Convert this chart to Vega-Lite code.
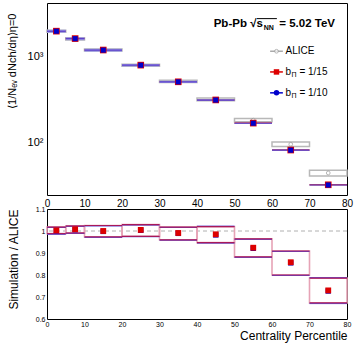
{
  "$schema": "https://vega.github.io/schema/vega-lite/v6.json",
  "padding": {"left": 6, "top": -2, "right": 4, "bottom": 4},
  "spacing": 14,
  "bounds": "flush",
  "datasets": {
    "bins": [
      {"lo": 0, "hi": 5, "c": 2.5, "alice": 1943, "alice_lo": 1889, "alice_hi": 1997, "sim10": 1945, "sim10_lo": 1867, "sim10_hi": 2023, "sim15": 1949, "r10": 1.001, "r15": 1.003, "b10_lo": 0.985, "b10_hi": 1.016, "b15_lo": 0.988, "b15_hi": 1.018},
      {"lo": 5, "hi": 10, "c": 7.5, "alice": 1587, "alice_lo": 1541, "alice_hi": 1633, "sim10": 1596, "sim10_lo": 1532, "sim10_hi": 1660, "sim15": 1600, "r10": 1.006, "r15": 1.008, "b10_lo": 0.989, "b10_hi": 1.021, "b15_lo": 0.991, "b15_hi": 1.023},
      {"lo": 10, "hi": 20, "c": 15, "alice": 1180, "alice_lo": 1149, "alice_hi": 1211, "sim10": 1177, "sim10_lo": 1130, "sim10_hi": 1224, "sim15": 1180, "r10": 0.998, "r15": 1.0, "b10_lo": 0.971, "b10_hi": 1.023, "b15_lo": 0.973, "b15_hi": 1.025},
      {"lo": 20, "hi": 30, "c": 25, "alice": 786, "alice_lo": 766, "alice_hi": 806, "sim10": 788, "sim10_lo": 760, "sim10_hi": 816, "sim15": 790, "r10": 1.003, "r15": 1.005, "b10_lo": 0.974, "b10_hi": 1.027, "b15_lo": 0.976, "b15_hi": 1.029},
      {"lo": 30, "hi": 40, "c": 35, "alice": 512, "alice_lo": 497, "alice_hi": 527, "sim10": 506, "sim10_lo": 491, "sim10_hi": 521, "sim15": 507, "r10": 0.989, "r15": 0.991, "b10_lo": 0.958, "b10_hi": 1.016, "b15_lo": 0.96, "b15_hi": 1.018},
      {"lo": 40, "hi": 50, "c": 45, "alice": 318, "alice_lo": 306, "alice_hi": 330, "sim10": 312, "sim10_lo": 306, "sim10_hi": 318, "sim15": 313, "r10": 0.982, "r15": 0.985, "b10_lo": 0.945, "b10_hi": 1.022, "b15_lo": 0.947, "b15_hi": 1.02},
      {"lo": 50, "hi": 60, "c": 55, "alice": 183, "alice_lo": 175, "alice_hi": 191, "sim10": 168.5, "sim10_lo": 166.5, "sim10_hi": 170.5, "sim15": 169, "r10": 0.921, "r15": 0.924, "b10_lo": 0.88, "b10_hi": 0.962, "b15_lo": 0.882, "b15_hi": 0.964},
      {"lo": 60, "hi": 70, "c": 65, "alice": 96.3, "alice_lo": 90.5, "alice_hi": 102.1, "sim10": 82.3, "sim10_lo": 81.5, "sim10_hi": 83.1, "sim15": 82.6, "r10": 0.855, "r15": 0.858, "b10_lo": 0.798, "b10_hi": 0.907, "b15_lo": 0.8, "b15_hi": 0.909},
      {"lo": 70, "hi": 80, "c": 75, "alice": 44.9, "alice_lo": 41.5, "alice_hi": 48.3, "sim10": 32.6, "sim10_lo": 32.3, "sim10_hi": 32.9, "sim15": 32.8, "r10": 0.727, "r15": 0.73, "b10_lo": 0.67, "b10_hi": 0.788, "b15_lo": 0.673, "b15_hi": 0.786}
    ]
  },
  "vconcat": [
    {
      "width": 300,
      "height": 192,
      "data": {"name": "bins"},
      "resolve": {"axis": {"x": "independent", "y": "independent"}},
      "layer": [
        {
          "mark": {"type": "rect", "fill": "white", "stroke": "#b8b8b8", "strokeWidth": 1.5},
          "encoding": {
            "x": {"field": "lo", "type": "quantitative", "scale": {"domain": [0, 80], "nice": false, "zero": false},
              "axis": {"orient": "bottom", "values": [0,2,4,6,8,10,12,14,16,18,20,22,24,26,28,30,32,34,36,38,40,42,44,46,48,50,52,54,56,58,60,62,64,66,68,70,72,74,76,78,80],
                "labelExpr": "datum.value % 10 == 0 ? '' + datum.value : ''", "labelFontSize": 10, "labelPadding": 3, "title": null,
                "encode": {"ticks": {"update": {"y2": {"signal": "datum.value % 10 == 0 ? -5 : -2.5"}}}}}},
            "x2": {"field": "hi"},
            "y": {"field": "alice_lo", "type": "quantitative", "scale": {"type": "log", "domain": [25, 4120], "nice": false},
              "axis": {"orient": "left", "values": [30,40,50,60,70,80,90,100,200,300,400,500,600,700,800,900,1000,2000,3000,4000],
                "labelExpr": "datum.value == 100 ? '10²' : datum.value == 1000 ? '10³' : ''", "labelFontSize": 11, "labelPadding": 4,
                "title": "⟨1/Nₑᵥ dNch/dη⟩η=0", "titleFontSize": 11, "titleAngle": 270, "titleAlign": "right", "titleY": 10, "titlePadding": 10,
                "encode": {"ticks": {"update": {"x2": {"signal": "(datum.value == 100 || datum.value == 1000) ? 9 : 4.5"}}}}}},
            "y2": {"field": "alice_hi"}
          }
        },
        {
          "mark": {"type": "point", "shape": "circle", "filled": true, "fill": "white", "stroke": "#999999", "strokeWidth": 1, "size": 14},
          "encoding": {
            "x": {"field": "c", "type": "quantitative", "scale": {"domain": [0, 80], "nice": false, "zero": false},
              "axis": {"orient": "top", "values": [0,2,4,6,8,10,12,14,16,18,20,22,24,26,28,30,32,34,36,38,40,42,44,46,48,50,52,54,56,58,60,62,64,66,68,70,72,74,76,78,80],
                "labels": false, "title": null,
                "encode": {"ticks": {"update": {"y2": {"signal": "datum.value % 10 == 0 ? 5 : 2.5"}}}}}},
            "y": {"field": "alice", "type": "quantitative", "scale": {"type": "log", "domain": [25, 4120], "nice": false},
              "axis": {"orient": "right", "values": [30,40,50,60,70,80,90,100,200,300,400,500,600,700,800,900,1000,2000,3000,4000],
                "labels": false, "title": null,
                "encode": {"ticks": {"update": {"x2": {"signal": "(datum.value == 100 || datum.value == 1000) ? -9 : -4.5"}}}}}}
          }
        },
        {
          "mark": {"type": "rule", "color": "#cc2020", "strokeWidth": 1.5},
          "encoding": {
            "x": {"field": "lo", "type": "quantitative", "scale": {"domain": [0, 80], "nice": false, "zero": false}, "axis": null},
            "x2": {"field": "hi"},
            "y": {"field": "sim15", "type": "quantitative", "scale": {"type": "log", "domain": [25, 4120], "nice": false}, "axis": null}
          }
        },
        {
          "mark": {"type": "rect", "fill": "#9d9de3", "stroke": null},
          "encoding": {
            "x": {"field": "lo", "type": "quantitative", "scale": {"domain": [0, 80], "nice": false, "zero": false}, "axis": null},
            "x2": {"field": "hi"},
            "y": {"field": "sim10_lo", "type": "quantitative", "scale": {"type": "log", "domain": [25, 4120], "nice": false}, "axis": null},
            "y2": {"field": "sim10_hi"}
          }
        },
        {
          "mark": {"type": "rule", "color": "#5a3cc8", "strokeWidth": 1.2},
          "encoding": {
            "x": {"field": "lo", "type": "quantitative", "scale": {"domain": [0, 80], "nice": false, "zero": false}, "axis": null},
            "x2": {"field": "hi"},
            "y": {"field": "sim10", "type": "quantitative", "scale": {"type": "log", "domain": [25, 4120], "nice": false}, "axis": null}
          }
        },
        {
          "mark": {"type": "point", "shape": "square", "filled": true, "color": "#dd0000", "opacity": 1, "size": 44},
          "encoding": {
            "x": {"field": "c", "type": "quantitative", "scale": {"domain": [0, 80], "nice": false, "zero": false}, "axis": null},
            "y": {"field": "sim15", "type": "quantitative", "scale": {"type": "log", "domain": [25, 4120], "nice": false}, "axis": null}
          }
        },
        {
          "mark": {"type": "point", "shape": "square", "filled": true, "color": "#0000cc", "opacity": 1, "size": 26},
          "encoding": {
            "x": {"field": "c", "type": "quantitative", "scale": {"domain": [0, 80], "nice": false, "zero": false}, "axis": null},
            "y": {"field": "sim10", "type": "quantitative", "scale": {"type": "log", "domain": [25, 4120], "nice": false}, "axis": null}
          }
        },
        {
          "data": {"values": [{}]},
          "mark": {"type": "rule", "color": "#aaaaaa", "strokeWidth": 1.5},
          "encoding": {
            "x": {"datum": 59.5, "type": "quantitative", "scale": {"domain": [0, 80], "nice": false, "zero": false}, "axis": null},
            "x2": {"datum": 62.9},
            "y": {"datum": 1142, "type": "quantitative", "scale": {"type": "log", "domain": [25, 4120], "nice": false}, "axis": null}
          }
        },
        {
          "data": {"values": [{}]},
          "mark": {"type": "point", "shape": "circle", "filled": true, "fill": "white", "stroke": "#999999", "strokeWidth": 1, "size": 14},
          "encoding": {
            "x": {"datum": 61.2, "type": "quantitative", "scale": {"domain": [0, 80], "nice": false, "zero": false}, "axis": null},
            "y": {"datum": 1142, "type": "quantitative", "scale": {"type": "log", "domain": [25, 4120], "nice": false}, "axis": null}
          }
        },
        {
          "data": {"values": [{}]},
          "mark": {"type": "rule", "color": "#dd0000", "strokeWidth": 1.5},
          "encoding": {
            "x": {"datum": 59.5, "type": "quantitative", "scale": {"domain": [0, 80], "nice": false, "zero": false}, "axis": null},
            "x2": {"datum": 62.9},
            "y": {"datum": 659, "type": "quantitative", "scale": {"type": "log", "domain": [25, 4120], "nice": false}, "axis": null}
          }
        },
        {
          "data": {"values": [{}]},
          "mark": {"type": "point", "shape": "square", "filled": true, "color": "#dd0000", "opacity": 1, "size": 30},
          "encoding": {
            "x": {"datum": 61.2, "type": "quantitative", "scale": {"domain": [0, 80], "nice": false, "zero": false}, "axis": null},
            "y": {"datum": 659, "type": "quantitative", "scale": {"type": "log", "domain": [25, 4120], "nice": false}, "axis": null}
          }
        },
        {
          "data": {"values": [{}]},
          "mark": {"type": "rule", "color": "#0000cc", "strokeWidth": 1.5},
          "encoding": {
            "x": {"datum": 59.5, "type": "quantitative", "scale": {"domain": [0, 80], "nice": false, "zero": false}, "axis": null},
            "x2": {"datum": 62.9},
            "y": {"datum": 378, "type": "quantitative", "scale": {"type": "log", "domain": [25, 4120], "nice": false}, "axis": null}
          }
        },
        {
          "data": {"values": [{}]},
          "mark": {"type": "point", "shape": "circle", "filled": true, "color": "#0000cc", "opacity": 1, "size": 30},
          "encoding": {
            "x": {"datum": 61.2, "type": "quantitative", "scale": {"domain": [0, 80], "nice": false, "zero": false}, "axis": null},
            "y": {"datum": 378, "type": "quantitative", "scale": {"type": "log", "domain": [25, 4120], "nice": false}, "axis": null}
          }
        },
        {
          "data": {"values": [{}]},
          "mark": {"type": "text", "text": "ALICE", "align": "left", "baseline": "middle", "fontSize": 10, "font": "Liberation Sans", "color": "black"},
          "encoding": {
            "x": {"datum": 63.6, "type": "quantitative", "scale": {"domain": [0, 80], "nice": false, "zero": false}, "axis": null},
            "y": {"datum": 1142, "type": "quantitative", "scale": {"type": "log", "domain": [25, 4120], "nice": false}, "axis": null}
          }
        },
        {
          "data": {"values": [{}]},
          "mark": {"type": "text", "text": "b", "align": "left", "baseline": "middle", "fontSize": 10, "font": "Liberation Sans", "color": "black"},
          "encoding": {
            "x": {"datum": 63.6, "type": "quantitative", "scale": {"domain": [0, 80], "nice": false, "zero": false}, "axis": null},
            "y": {"datum": 659, "type": "quantitative", "scale": {"type": "log", "domain": [25, 4120], "nice": false}, "axis": null}
          }
        },
        {
          "data": {"values": [{}]},
          "mark": {"type": "text", "text": "Π", "align": "left", "baseline": "middle", "fontSize": 7, "dy": 3, "font": "Liberation Sans", "color": "black"},
          "encoding": {
            "x": {"datum": 65.2, "type": "quantitative", "scale": {"domain": [0, 80], "nice": false, "zero": false}, "axis": null},
            "y": {"datum": 659, "type": "quantitative", "scale": {"type": "log", "domain": [25, 4120], "nice": false}, "axis": null}
          }
        },
        {
          "data": {"values": [{}]},
          "mark": {"type": "text", "text": "= 1/15", "align": "left", "baseline": "middle", "fontSize": 10, "font": "Liberation Sans", "color": "black"},
          "encoding": {
            "x": {"datum": 67.3, "type": "quantitative", "scale": {"domain": [0, 80], "nice": false, "zero": false}, "axis": null},
            "y": {"datum": 659, "type": "quantitative", "scale": {"type": "log", "domain": [25, 4120], "nice": false}, "axis": null}
          }
        },
        {
          "data": {"values": [{}]},
          "mark": {"type": "text", "text": "b", "align": "left", "baseline": "middle", "fontSize": 10, "font": "Liberation Sans", "color": "black"},
          "encoding": {
            "x": {"datum": 63.6, "type": "quantitative", "scale": {"domain": [0, 80], "nice": false, "zero": false}, "axis": null},
            "y": {"datum": 378, "type": "quantitative", "scale": {"type": "log", "domain": [25, 4120], "nice": false}, "axis": null}
          }
        },
        {
          "data": {"values": [{}]},
          "mark": {"type": "text", "text": "Π", "align": "left", "baseline": "middle", "fontSize": 7, "dy": 3, "font": "Liberation Sans", "color": "black"},
          "encoding": {
            "x": {"datum": 65.2, "type": "quantitative", "scale": {"domain": [0, 80], "nice": false, "zero": false}, "axis": null},
            "y": {"datum": 378, "type": "quantitative", "scale": {"type": "log", "domain": [25, 4120], "nice": false}, "axis": null}
          }
        },
        {
          "data": {"values": [{}]},
          "mark": {"type": "text", "text": "= 1/10", "align": "left", "baseline": "middle", "fontSize": 10, "font": "Liberation Sans", "color": "black"},
          "encoding": {
            "x": {"datum": 67.3, "type": "quantitative", "scale": {"domain": [0, 80], "nice": false, "zero": false}, "axis": null},
            "y": {"datum": 378, "type": "quantitative", "scale": {"type": "log", "domain": [25, 4120], "nice": false}, "axis": null}
          }
        },
        {
          "data": {"values": [{}]},
          "mark": {"type": "text", "text": "Pb-Pb", "align": "left", "baseline": "middle", "fontSize": 11.5, "fontWeight": "bold", "font": "Liberation Sans", "color": "black"},
          "encoding": {
            "x": {"datum": 44.45, "type": "quantitative", "scale": {"domain": [0, 80], "nice": false, "zero": false}, "axis": null},
            "y": {"datum": 2358, "type": "quantitative", "scale": {"type": "log", "domain": [25, 4120], "nice": false}, "axis": null}
          }
        },
        {
          "data": {"values": [{}]},
          "mark": {"type": "text", "text": "√s", "align": "left", "baseline": "middle", "fontSize": 11.5, "fontWeight": "bold", "font": "Liberation Sans", "color": "black"},
          "encoding": {
            "x": {"datum": 54.2, "type": "quantitative", "scale": {"domain": [0, 80], "nice": false, "zero": false}, "axis": null},
            "y": {"datum": 2358, "type": "quantitative", "scale": {"type": "log", "domain": [25, 4120], "nice": false}, "axis": null}
          }
        },
        {
          "data": {"values": [{}]},
          "mark": {"type": "rule", "color": "black", "strokeWidth": 1},
          "encoding": {
            "x": {"datum": 56.0, "type": "quantitative", "scale": {"domain": [0, 80], "nice": false, "zero": false}, "axis": null},
            "x2": {"datum": 61.3},
            "y": {"datum": 2720, "type": "quantitative", "scale": {"type": "log", "domain": [25, 4120], "nice": false}, "axis": null}
          }
        },
        {
          "data": {"values": [{}]},
          "mark": {"type": "text", "text": "NN", "align": "left", "baseline": "middle", "fontSize": 7, "dy": 4, "fontWeight": "bold", "font": "Liberation Sans", "color": "black"},
          "encoding": {
            "x": {"datum": 57.8, "type": "quantitative", "scale": {"domain": [0, 80], "nice": false, "zero": false}, "axis": null},
            "y": {"datum": 2358, "type": "quantitative", "scale": {"type": "log", "domain": [25, 4120], "nice": false}, "axis": null}
          }
        },
        {
          "data": {"values": [{}]},
          "mark": {"type": "text", "text": "= 5.02 TeV", "align": "right", "baseline": "middle", "fontSize": 11.5, "fontWeight": "bold", "font": "Liberation Sans", "color": "black"},
          "encoding": {
            "x": {"datum": 76.8, "type": "quantitative", "scale": {"domain": [0, 80], "nice": false, "zero": false}, "axis": null},
            "y": {"datum": 2358, "type": "quantitative", "scale": {"type": "log", "domain": [25, 4120], "nice": false}, "axis": null}
          }
        }
      ]
    },
    {
      "width": 300,
      "height": 110,
      "data": {"name": "bins"},
      "resolve": {"axis": {"x": "independent", "y": "independent"}},
      "layer": [
        {
          "data": {"values": [{"ref": 1}]},
          "mark": {"type": "rule", "color": "#b0b0b0", "strokeWidth": 1, "strokeDash": [4, 3]},
          "encoding": {
            "y": {"field": "ref", "type": "quantitative", "scale": {"domain": [0.6, 1.1], "nice": false, "zero": false}, "axis": null}
          }
        },
        {
          "mark": {"type": "rect", "fill": null, "fillOpacity": 0, "stroke": "#e6a3b6", "strokeWidth": 1.6},
          "encoding": {
            "x": {"field": "lo", "type": "quantitative", "scale": {"domain": [0, 80], "nice": false, "zero": false},
              "axis": {"orient": "bottom", "values": [0,2,4,6,8,10,12,14,16,18,20,22,24,26,28,30,32,34,36,38,40,42,44,46,48,50,52,54,56,58,60,62,64,66,68,70,72,74,76,78,80],
                "labelExpr": "datum.value % 10 == 0 ? '' + datum.value : ''", "labelFontSize": 7, "labelPadding": 1,
                "title": "Centrality Percentile", "titleFontSize": 12, "titleAnchor": "end", "titlePadding": 3,
                "encode": {"ticks": {"update": {"y2": {"signal": "datum.value % 10 == 0 ? -5 : -2.5"}}}}}},
            "x2": {"field": "hi"},
            "y": {"field": "b15_lo", "type": "quantitative", "scale": {"domain": [0.6, 1.1], "nice": false, "zero": false},
              "axis": {"orient": "left", "values": [0.6,0.62,0.64,0.66,0.68,0.7,0.72,0.74,0.76,0.78,0.8,0.82,0.84,0.86,0.88,0.9,0.92,0.94,0.96,0.98,1,1.02,1.04,1.06,1.08,1.1],
                "labelExpr": "abs(datum.value * 10 - round(datum.value * 10)) < 0.001 ? '' + datum.value : ''", "labelFontSize": 7, "labelPadding": 2,
                "title": "Simulation / ALICE", "titleFontSize": 12, "titleAnchor": "end", "titlePadding": 15,
                "encode": {"ticks": {"update": {"x2": {"signal": "abs(datum.value * 10 - round(datum.value * 10)) < 0.001 ? 7 : 3.5"}}}}}},
            "y2": {"field": "b15_hi"}
          }
        },
        {
          "mark": {"type": "rule", "color": "#4a4ae0", "strokeWidth": 1},
          "encoding": {
            "x": {"field": "lo", "type": "quantitative", "scale": {"domain": [0, 80], "nice": false, "zero": false},
              "axis": {"orient": "top", "values": [0,2,4,6,8,10,12,14,16,18,20,22,24,26,28,30,32,34,36,38,40,42,44,46,48,50,52,54,56,58,60,62,64,66,68,70,72,74,76,78,80],
                "labels": false, "title": null,
                "encode": {"ticks": {"update": {"y2": {"signal": "datum.value % 10 == 0 ? 5 : 2.5"}}}}}},
            "x2": {"field": "hi"},
            "y": {"field": "b10_lo", "type": "quantitative", "scale": {"domain": [0.6, 1.1], "nice": false, "zero": false},
              "axis": {"orient": "right", "values": [0.6,0.62,0.64,0.66,0.68,0.7,0.72,0.74,0.76,0.78,0.8,0.82,0.84,0.86,0.88,0.9,0.92,0.94,0.96,0.98,1,1.02,1.04,1.06,1.08,1.1],
                "labels": false, "title": null,
                "encode": {"ticks": {"update": {"x2": {"signal": "abs(datum.value * 10 - round(datum.value * 10)) < 0.001 ? -7 : -3.5"}}}}}}
          }
        },
        {
          "mark": {"type": "rule", "color": "#4a4ae0", "strokeWidth": 1},
          "encoding": {
            "x": {"field": "lo", "type": "quantitative", "scale": {"domain": [0, 80], "nice": false, "zero": false}, "axis": null},
            "x2": {"field": "hi"},
            "y": {"field": "b10_hi", "type": "quantitative", "scale": {"domain": [0.6, 1.1], "nice": false, "zero": false}, "axis": null}
          }
        },
        {
          "mark": {"type": "rule", "color": "#a8185a", "strokeWidth": 1.2},
          "encoding": {
            "x": {"field": "lo", "type": "quantitative", "scale": {"domain": [0, 80], "nice": false, "zero": false}, "axis": null},
            "x2": {"field": "hi"},
            "y": {"field": "b15_lo", "type": "quantitative", "scale": {"domain": [0.6, 1.1], "nice": false, "zero": false}, "axis": null}
          }
        },
        {
          "mark": {"type": "rule", "color": "#a8185a", "strokeWidth": 1.2},
          "encoding": {
            "x": {"field": "lo", "type": "quantitative", "scale": {"domain": [0, 80], "nice": false, "zero": false}, "axis": null},
            "x2": {"field": "hi"},
            "y": {"field": "b15_hi", "type": "quantitative", "scale": {"domain": [0.6, 1.1], "nice": false, "zero": false}, "axis": null}
          }
        },
        {
          "mark": {"type": "point", "shape": "square", "filled": true, "color": "#0000cc", "opacity": 1, "size": 28},
          "encoding": {
            "x": {"field": "c", "type": "quantitative", "scale": {"domain": [0, 80], "nice": false, "zero": false}, "axis": null},
            "y": {"field": "r10", "type": "quantitative", "scale": {"domain": [0.6, 1.1], "nice": false, "zero": false}, "axis": null}
          }
        },
        {
          "mark": {"type": "point", "shape": "square", "filled": true, "color": "#dd0000", "opacity": 1, "size": 34},
          "encoding": {
            "x": {"field": "c", "type": "quantitative", "scale": {"domain": [0, 80], "nice": false, "zero": false}, "axis": null},
            "y": {"field": "r15", "type": "quantitative", "scale": {"domain": [0.6, 1.1], "nice": false, "zero": false}, "axis": null}
          }
        }
      ]
    }
  ],
  "config": {
    "font": "Liberation Sans",
    "view": {"stroke": null},
    "axis": {
      "domainColor": "black", "domainWidth": 1, "tickColor": "black", "tickWidth": 1, "tickSize": 0,
      "labelColor": "black", "titleColor": "black", "grid": false,
      "labelFont": "Liberation Sans", "titleFont": "Liberation Sans", "titleFontWeight": "normal",
      "labelFlush": false, "labelOverlap": false, "labelBound": false
    }
  }
}
